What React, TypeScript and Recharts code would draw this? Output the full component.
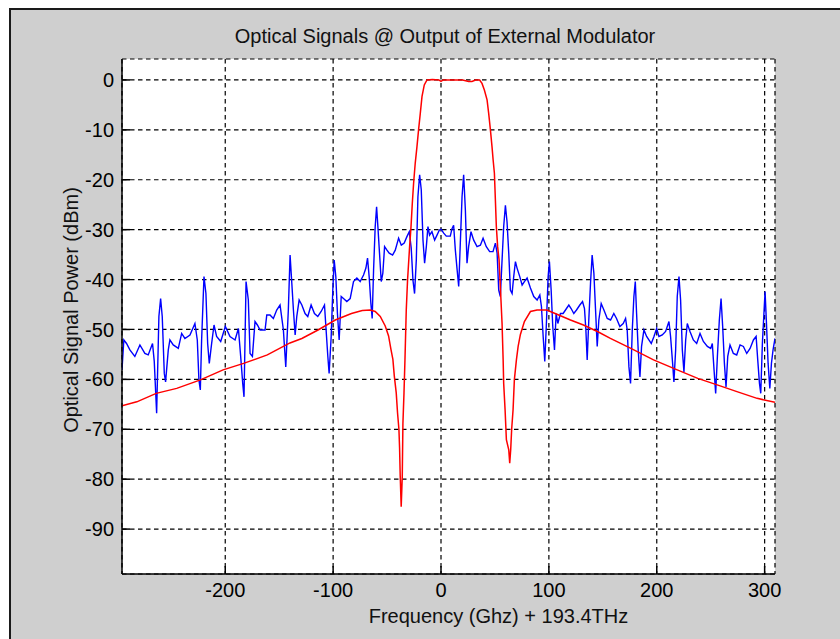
import { LineChart, Line, XAxis, YAxis, CartesianGrid } from 'recharts';

// ---------------------------------------------------------------------------
// Data (frequency offset in GHz, power in dBm)
// ---------------------------------------------------------------------------

const xTicks = [-200, -100, 0, 100, 200, 300];
const yTicks = [0, -10, -20, -30, -40, -50, -60, -70, -80, -90];

const blueFreq = [
  -295.7, -294, -291.5, -288.4, -283.8, -279.1, -274.5, -271.4, -267.4, -265.8,
  -263.6, -261.5, -259.9, -258.4, -256.5, -255.3, -252.8, -251.3, -248.2, -243.5,
  -240.4, -237.4, -232.7, -228.1, -225.9, -224.4, -223.1, -221.9, -219.7, -217.9,
  -216.3, -214.8, -212.6, -210.4, -208, -204.2, -199.9, -195.6, -190.9, -187.8,
  -185.7, -183.8, -182.6, -180.7, -178.6, -177, -174.8, -172.4, -170.2, -167.7,
  -163.1, -161.5, -158.5, -155.4, -152.3, -149.2, -146.1, -143.9, -141.5, -139.9,
  -138.3, -136.8, -135.2, -133.7, -131.5, -129, -126, -123.5, -120.4, -117.3,
  -114.2, -111.1, -108, -106.5, -104.9, -103.7, -101.8, -100.3, -99, -97.5,
  -96, -94.4, -92.5, -90.4, -87.3, -84.2, -81.1, -78, -74.9, -71.8,
  -69.6, -68.1, -66.6, -65, -63.8, -62.5, -61, -59.7, -58.5, -57,
  -55.4, -53.9, -52.3, -50.1, -48, -44.9, -42.4, -39.3, -36.8, -34.1,
  -31.6, -29.4, -27.6, -26, -24.5, -22.9, -21.4, -19.8, -18.3, -16.7,
  -15.2, -13.6, -12.1, -10.6, -8.4, -5.9, -3.7, -1.6, 0, 2.5,
  4.9, 8.6, 10.2, 11.7, 13.3, 14.8, 16.4, 17.9, 19.5, 21,
  22.6, 24.1, 25.6, 27.8, 30.3, 33.4, 36.5, 39, 42, 45.1,
  48.2, 50.4, 52, 53.5, 55, 56.6, 58.1, 59.7, 61.2, 62.8,
  64.3, 65.9, 67.4, 69, 70.5, 73, 75.2, 77.3, 79.8, 82.9,
  86, 89.1, 91.6, 93.1, 94.7, 96.2, 97.7, 99.3, 100.5, 102.1,
  103.6, 105.2, 106.7, 108.3, 110.7, 113.2, 115.4, 118.5, 120.6, 123.1,
  125.6, 128.7, 131.2, 133, 134.3, 135.5, 137, 138.6, 140.1, 141.7,
  143.2, 144.8, 146.3, 148.5, 151, 154.1, 157.2, 160.2, 162.7, 165.8,
  168.9, 171.1, 172.6, 174.2, 175.7, 177.3, 178.8, 180.1, 181.3, 182.8,
  184.4, 185.9, 188.1, 190.6, 192.7, 194.9, 197.4, 199.9, 202, 205.1,
  208.2, 211.3, 212.8, 214.7, 215.9, 217.5, 219, 220.6, 222.1, 223.7,
  225.2, 226.8, 228.3, 230.8, 233.9, 237, 240.1, 243.2, 246.9, 250,
  251.5, 253.1, 254.6, 256.2, 258, 259.6, 261.1, 262.7, 264.2, 265.8,
  267.9, 271, 274.1, 277.2, 280.3, 283.4, 286.5, 289.6, 292.1, 293.6,
  295.2, 296.4, 297.9, 299.5, 300.4, 301.7, 303.2, 304.8, 306.3, 307.8,
  309.6,
];

const bluePower = [
  -58.1, -52.1, -52.8, -54.1, -55.4, -53.1, -54.8, -55.1, -52.8, -56.4,
  -66.8, -47.4, -43.8, -47.4, -58.8, -60.5, -54.1, -52.1, -53.1, -53.8,
  -50.8, -51.8, -51.1, -48.8, -52.1, -60.1, -62.1, -52.1, -39.4, -42.8,
  -52.8, -56.8, -52.8, -49.1, -51.4, -52.4, -49.4, -51.4, -52.1, -49.8,
  -55.4, -60.8, -63.5, -40.4, -44.1, -54.8, -55.4, -48.4, -49.1, -50.1,
  -50.1, -47.1, -47.1, -47.8, -46.1, -45.1, -50.1, -57.5, -46, -35.1,
  -40.7, -46.1, -51.1, -47.4, -44.1, -45.1, -46.8, -47.4, -45.1, -46.8,
  -47.4, -46.4, -45.1, -50.1, -55.4, -58.8, -51.4, -42.1, -36.1, -39.4,
  -46.8, -52.1, -43.4, -43.8, -44.4, -43.8, -40.4, -39.7, -40.4, -39.1,
  -37.7, -35.7, -39.4, -44.8, -47.8, -38.1, -29.4, -25.4, -29.4, -34.7,
  -40.4, -38.7, -33.4, -34.1, -34.7, -35.1, -34.1, -31.7, -33.1, -32.7,
  -31.4, -30.4, -33.7, -40.1, -42.8, -36.1, -23.4, -19, -22, -32.1,
  -36.7, -33.4, -29.4, -31.1, -30.4, -32.1, -31.1, -30.1, -29.9, -30.7,
  -31.3, -31.3, -29.8, -29.1, -34.1, -37.7, -41.4, -32.7, -23.4, -19,
  -26.1, -36.7, -33.4, -30.4, -32.1, -33.4, -33.1, -31.7, -33.4, -34.4,
  -34.4, -32.7, -34.7, -42.1, -43.4, -36.1, -29.4, -25.1, -28.4, -34.7,
  -42.1, -42.8, -39.4, -36.4, -37.7, -39.4, -41.1, -40.4, -39.7, -41.7,
  -43.4, -44.1, -43.1, -45.4, -51.4, -56.4, -48.8, -39.4, -36.4, -42.1,
  -49.4, -54.1, -46.8, -48.8, -46.8, -46.8, -46.1, -45.1, -45.8, -46.8,
  -46.1, -45.1, -44.4, -45.8, -50.1, -56.1, -48.1, -40.7, -35.1, -38.7,
  -45.8, -53.4, -48.1, -44.8, -46.1, -47.8, -48.1, -46.8, -47.8, -49.4,
  -48.8, -47.8, -50.1, -57.5, -60.8, -50.1, -43.4, -40.4, -46.8, -54.1,
  -59.5, -53.4, -50.1, -51.4, -52.1, -52.8, -51.4, -49.8, -51.4, -51.1,
  -50.4, -48.4, -51.4, -56.8, -60.5, -54.1, -43.4, -39.4, -44.1, -54.1,
  -58.5, -52.1, -48.8, -50.4, -52.1, -52.8, -50.8, -52.4, -53.4, -53.8,
  -52.8, -58.1, -62.8, -55.4, -48.1, -43.8, -49.4, -56.8, -61.5, -55.4,
  -53.1, -54.8, -55.1, -53.1, -53.4, -54.8, -53.8, -52.1, -51.4, -56.1,
  -60.8, -62.8, -52.8, -46.1, -42.4, -48.8, -56.8, -61.8, -56.8, -54.1,
  -51.8,
];

const redFreq = [
  -295.7, -282, -264, -245, -223, -202, -183, -161, -140, -129,
  -114, -98, -83, -73, -65.6, -61, -56.3, -51.7, -48.6, -46.4,
  -44.6, -43.3, -41.5, -40.3, -39, -38.4, -37.8, -36.9, -35.9, -35.3,
  -34.3, -33.4, -32.2, -31, -29.1, -27.8, -26.6, -25.4, -23.9, -22.3,
  -20.8, -19.2, -17.6, -15.5, -13, -8, -2, 0, 2, 20,
  25.6, 28.7, 32, 35.8, 38, 40.2, 42.7, 44.2, 45.8, 47.3,
  48.3, 49.5, 50.4, 51.3, 52.5, 53.8, 55, 56.6, 57.6, 58.1,
  59.4, 60.6, 62.8, 63.7, 64.6, 65.5, 66.8, 68, 69.9, 71.5,
  73.6, 77.3, 82.9, 89, 98, 108, 120, 132, 145, 157,
  176, 197, 219, 238, 256, 275, 293, 309.6,
];

const redPower = [
  -65.3, -64.5, -62.8, -61.8, -60.1, -58.1, -56.8, -55.1, -52.7, -51.8,
  -50.1, -48.1, -46.8, -46.2, -46.1, -46.4, -47.4, -49.3, -51.3, -54,
  -56, -59.3, -62.7, -66.7, -70, -73.7, -79.4, -85.5, -79.4, -68.8,
  -62.7, -56, -46.1, -40.1, -33.4, -29.4, -24.7, -20.7, -16.7, -13.4,
  -10, -6.7, -3.3, -1, 0, 0.1, 0, -0.3, 0, 0,
  -0.3, -0.3, 0, 0, -0.7, -2, -4, -6.7, -10, -13.4,
  -16, -18.7, -24, -29.4, -33.4, -36, -41.4, -48.8, -56.1, -60.8,
  -66.1, -72.1, -74.1, -76.8, -74.1, -70, -66.1, -60.1, -56.1, -53.4,
  -51, -48.4, -46.4, -46.1, -46.1, -47, -48.1, -49.1, -50.4, -51.8,
  -53.8, -56.1, -58.1, -59.8, -61.1, -62.5, -63.8, -64.6,
];

// ---------------------------------------------------------------------------
// Helpers
// ---------------------------------------------------------------------------

const FONT = "'Liberation Sans', Arial, sans-serif";
const FONT_SIZE = 20;

function toRows(freq: number[], power: number[]) {
  return freq.map((f, i) => ({ freq: f, power: power[i] }));
}

// ---------------------------------------------------------------------------
// Component
// ---------------------------------------------------------------------------

export default function App() {
  const blue = toRows(blueFreq, bluePower);
  const red = toRows(redFreq, redPower);
  const tickStyle = { fill: '#000', fontSize: FONT_SIZE, fontFamily: FONT };

  return (
    <div
      style={{
        position: 'absolute',
        left: 0,
        top: 0,
        width: 840,
        height: 639,
        background: '#fff',
        overflow: 'hidden',
      }}
    >
      <div
        style={{
          position: 'absolute',
          left: 9,
          top: 8,
          width: 840,
          height: 640,
          background: '#cfcfcf',
          borderLeft: '2px solid #1a1a1a',
          borderTop: '2px solid #1a1a1a',
        }}
      />
      <div style={{ position: 'absolute', left: 0, top: 0 }}>
        <LineChart
          width={840}
          height={639}
          margin={{ top: 59, right: 65, bottom: 35, left: 62 }}
        >
          <CartesianGrid
            fill="#fff"
            stroke="#000"
            strokeWidth={1.2}
            strokeDasharray="4.5 3.5"
          />
          <XAxis
            dataKey="freq"
            type="number"
            domain={[-295.7, 309.6]}
            ticks={xTicks}
            interval={0}
            allowDataOverflow
            height={30}
            tickSize={-8}
            tickMargin={17}
            stroke="#000"
            strokeWidth={1.5}
            tick={tickStyle}
          />
          <XAxis
            xAxisId="top"
            orientation="top"
            dataKey="freq"
            type="number"
            domain={[-295.7, 309.6]}
            ticks={xTicks}
            interval={0}
            allowDataOverflow
            height={0}
            tickSize={-8}
            tick={false}
            stroke="#000"
            strokeWidth={1.5}
          />
          <YAxis
            type="number"
            domain={[-99, 4.2]}
            ticks={yTicks}
            interval={0}
            allowDataOverflow
            width={60}
            tickSize={-8}
            tickMargin={16}
            stroke="#000"
            strokeWidth={1.5}
            tick={tickStyle}
          />
          <YAxis
            yAxisId="right"
            orientation="right"
            type="number"
            domain={[-99, 4.2]}
            ticks={yTicks}
            interval={0}
            allowDataOverflow
            width={0}
            tickSize={-8}
            tick={false}
            stroke="#000"
            strokeWidth={1.5}
          />
          <Line
            data={blue}
            dataKey="power"
            type="linear"
            stroke="#0000ff"
            strokeWidth={1.4}
            dot={false}
            isAnimationActive={false}
          />
          <Line
            data={red}
            dataKey="power"
            type="linear"
            stroke="#ff0000"
            strokeWidth={1.5}
            dot={false}
            isAnimationActive={false}
          />
        </LineChart>
      </div>
      <svg
        width={840}
        height={639}
        style={{ position: 'absolute', left: 0, top: 0, pointerEvents: 'none' }}
        fontFamily={FONT}
        fontSize={FONT_SIZE}
        fill="#111"
      >
        <text x={445} y={43} textAnchor="middle">
          Optical Signals @ Output of External Modulator
        </text>
        <text x={498.5} y={623} textAnchor="middle">
          Frequency (Ghz) + 193.4THz
        </text>
        <text transform="translate(78,310) rotate(-90)" textAnchor="middle">
          Optical Signal Power (dBm)
        </text>
      </svg>
    </div>
  );
}
